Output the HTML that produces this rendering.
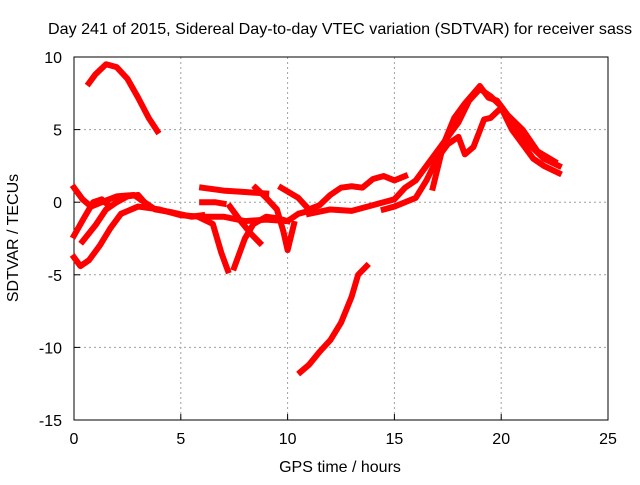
<!DOCTYPE html>
<html><head><meta charset="utf-8"><style>
body{margin:0;background:#fff}
svg text{font-family:"Liberation Sans",sans-serif;font-size:16px;fill:#000}
</style></head><body>
<svg width="640" height="480">
<g id="grid"></g>
<rect x="74" y="57" width="534" height="363" fill="none" stroke="#000"/>
<g id="ticks"></g>
<g id="series"></g>
<text x="340" y="34" text-anchor="middle" textLength="584" lengthAdjust="spacingAndGlyphs">Day 241 of 2015, Sidereal Day-to-day VTEC variation (SDTVAR) for receiver sass</text>
<text x="340" y="472" text-anchor="middle">GPS time / hours</text>
<text x="18" y="238" text-anchor="middle" transform="rotate(-90 18 238)">SDTVAR / TECUs</text>
</svg>
<script>
const xTicks=[0,5,10,15,20,25];
const yTicks=[10,5,0,-5,-10,-15];
const s1=[[0.7,8.2],[1,8.8],[1.5,9.5],[2,9.3],[2.5,8.5],[3,7.2],[3.5,5.8],[3.9,4.9]];
const s2=[[10.6,-11.7],[11,-11.2],[11.5,-10.3],[12,-9.5],[12.5,-8.3],[13,-6.5],[13.3,-5],[13.7,-4.4]];
const s3=[[0,-3.8],[0.3,-4.4],[0.7,-4],[1.2,-3],[1.7,-1.8],[2.2,-0.8],[3,-0.3],[4,-0.5],[5,-0.9],[6,-1],[7,-1],[8,-1.3],[9,-1.2],[10,-1.3],[10.5,-0.8],[11,-0.6]];
const s4=[[0,1],[0.4,0.2],[0.8,-0.3],[1.3,0],[2,0.4],[2.8,0.5],[3.2,0.1],[3.8,-0.5],[4.6,-0.7],[5.5,-1],[6,-0.9]];
const s5=[[0,-2.3],[0.5,-1],[0.9,0],[1.3,0.2],[1.6,-0.2]];
const s5b=[[0.4,-2.7],[1,-1.6],[1.5,-0.5],[2,0],[2.5,0.4],[3,0.5],[3.3,0]];
const s6=[[5.8,-1],[6.5,-1.5],[6.9,-3.5],[7.2,-4.7]];
const s6b=[[7.5,-4.5],[8,-2.5],[8.4,-1.5],[9,-1],[9.5,-1.1],[10,-1.3]];
const s7=[[6,1],[7,0.8],[8,0.7],[9,0.6]];
const s7b=[[6,0],[6.6,0],[7,-0.1]];
const s8=[[7.3,-0.3],[7.8,-1.3],[8.3,-2.2],[8.7,-2.8]];
const s9=[[8.5,1],[9,0.3],[9.5,-0.5],[9.8,-2],[10,-3.3],[10.3,-1.5]];
const s10=[[9.7,1],[10.5,0.3],[11,-0.5],[11.5,-0.2],[12,0.5],[12.5,1],[13,1.1],[13.5,1],[14,1.6],[14.5,1.8],[15,1.5],[15.5,1.8]];
const s11=[[11,-0.8],[12,-0.5],[13,-0.6],[14,-0.2],[15,0.2],[15.5,1],[16,1.5],[16.5,2.5],[17,3.5],[17.5,4.5],[18,5.5],[18.5,7],[19,7.8],[19.5,7.3],[20,6.6],[20.5,5.5],[21,4.5],[21.5,3.7],[22,3],[22.7,2.5]];
const s12=[[14.5,-0.5],[15,-0.3],[16,0.3],[16.5,1.5],[17,3],[17.5,4],[18,4.5],[18.3,3.3],[18.7,3.8],[19.2,5.7],[19.5,5.8],[20,6.5],[20.5,5],[21,4],[21.5,3],[22,2.5],[22.7,2]];
const s13=[[16.8,1],[17.3,4],[17.8,5.8],[18.3,6.8],[19,8],[19.4,7.2],[19.8,7],[20.3,6],[21,5],[21.7,3.5],[22.5,2.8]];
const allSeries=[s1,s2,s3,s4,s5,s5b,s6,s6b,s7,s7b,s8,s9,s10,s11,s12,s13];
const X=h=>74+h*(534/25), Y=v=>57+(10-v)*(363/25);
const NS='http://www.w3.org/2000/svg';
const grid=document.getElementById('grid'),ticks=document.getElementById('ticks'),ser=document.getElementById('series');
function mk(tag,attrs,parent){const e=document.createElementNS(NS,tag);for(const k in attrs)e.setAttribute(k,attrs[k]);parent.appendChild(e);return e;}
xTicks.forEach(t=>{
 if(t>0&&t<25){const g=mk('line',{x1:X(t),x2:X(t),y1:57,y2:420,stroke:'#a0a0a0','stroke-dasharray':'2,3'},grid);
 
 }
 const l=mk('text',{x:X(t),y:444,'text-anchor':'middle'},ticks);l.textContent=t;
 
 
 mk('line',{x1:X(t),x2:X(t),y1:420,y2:414,stroke:'#000'},ticks);
});
yTicks.forEach(t=>{
 if(t<10&&t>-15){const g=mk('line',{x1:74,x2:608,y1:Y(t),y2:Y(t),stroke:'#a0a0a0','stroke-dasharray':'2,3'},grid);
 
 }
 const l=mk('text',{x:62,y:Y(t)+6,'text-anchor':'end'},ticks);l.textContent=t;
 
 
 mk('line',{x1:74,x2:80,y1:Y(t),y2:Y(t),stroke:'#000'},ticks);
});
allSeries.forEach(s=>{
 const p=mk('polyline',{points:s.map(d=>X(d[0])+','+Y(d[1])).join(' '),fill:'none',stroke:'#ff0000','stroke-width':6,'stroke-linejoin':'round','stroke-linecap':'square'},ser);
 
 
});
</script>
</body></html>
